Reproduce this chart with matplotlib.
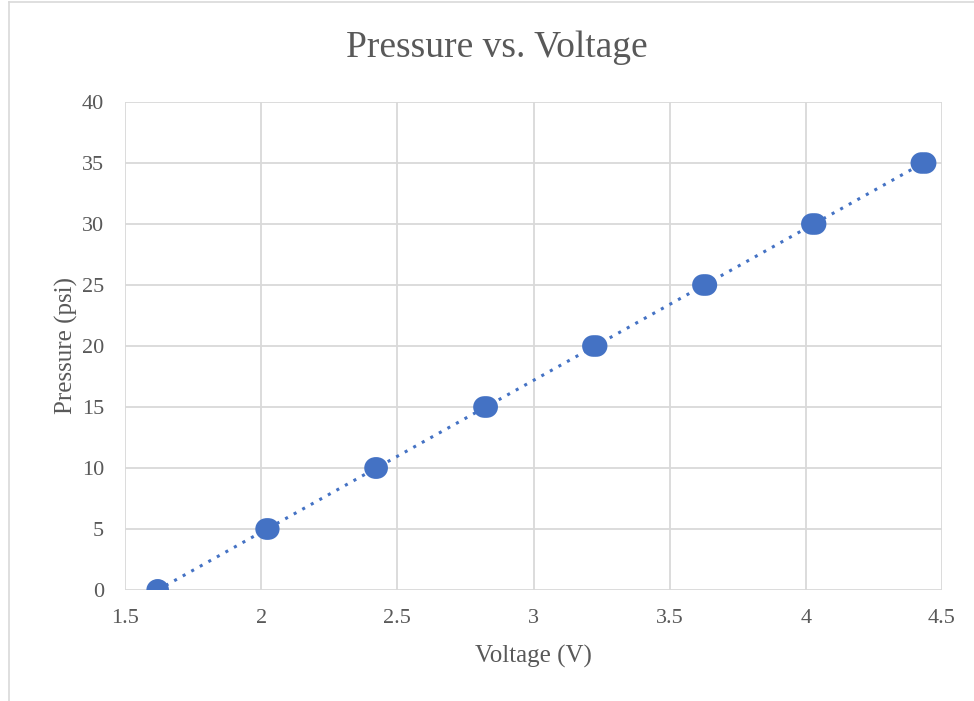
import numpy as np
import matplotlib.pyplot as plt
from matplotlib.lines import Line2D

# Readings (two sweeps per pressure step)
pressure = [0, 0, 5, 5, 10, 10, 15, 15, 20, 20, 25, 25, 30, 30, 35, 35]
voltage = [1.618, 1.622, 2.018, 2.028, 2.418, 2.426, 2.818, 2.83,
           3.218, 3.232, 3.622, 3.635, 4.022, 4.036, 4.424, 4.44]

x_ticks = [1.5, 2, 2.5, 3, 3.5, 4, 4.5]
y_ticks = [0, 5, 10, 15, 20, 25, 30, 35, 40]

blue = "#4472C4"
grey_txt = "#595959"
grid_col = "#D9D9D9"

plt.rcParams['font.family'] = ['Liberation Serif', 'DejaVu Serif']

fig = plt.figure(figsize=(9.74, 7.01), dpi=100)
ax = fig.add_axes([125 / 974, 111 / 701, 817 / 974, 488 / 701])

# outer chart border (left and top visible)
fig.add_artist(Line2D([8.5 / 974, 8.5 / 974], [0, 1 - 1.5 / 701], color=grid_col, lw=1.2))
fig.add_artist(Line2D([8.5 / 974, 1], [1 - 1.5 / 701, 1 - 1.5 / 701], color=grid_col, lw=1.2))

# linear trendline
v = np.array(voltage)
p = np.array(pressure)
k, b = np.polyfit(v, p, 1)
xs = np.array([v.min(), v.max()])
ax.plot(xs, k * xs + b, linestyle=(0, (1, 2.2)), color=blue, lw=2.2, zorder=3)

ax.scatter(voltage, pressure, s=240, color=blue, edgecolors='none', zorder=4)

ax.set_xlim(1.5, 4.5)
ax.set_ylim(0, 40)
ax.set_xticks(x_ticks)
ax.set_xticklabels([f"{t:g}" for t in x_ticks])
ax.set_yticks(y_ticks)
ax.grid(True, color=grid_col, lw=1.3)
ax.set_axisbelow(True)
for s in ax.spines.values():
    s.set_visible(False)
ax.tick_params(axis='x', length=0, labelsize=16, labelcolor=grey_txt, pad=14)
ax.tick_params(axis='y', length=0, labelsize=16, labelcolor=grey_txt, pad=15)

ax.set_xlabel("Voltage (V)", fontsize=18, color=grey_txt, labelpad=12)
ax.set_ylabel("Pressure (psi)", fontsize=18, color=grey_txt, labelpad=3)
fig.text(497 / 974, 1 - 48 / 701, "Pressure vs. Voltage", ha='center', va='center',
         fontsize=27, color=grey_txt)

fig.savefig("out.png", dpi=100)
